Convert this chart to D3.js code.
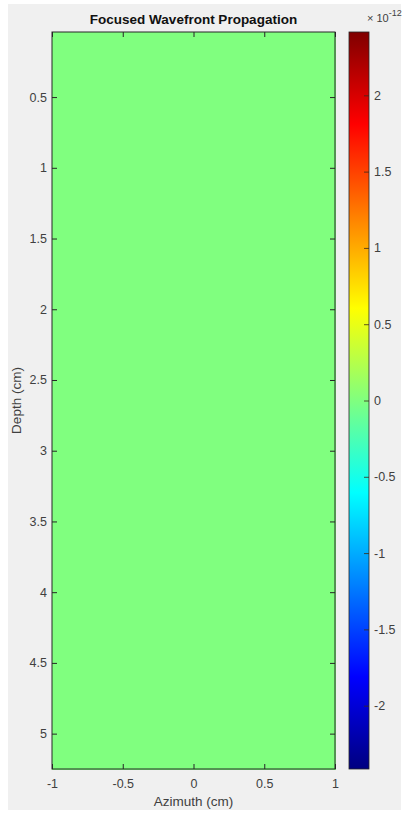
<!DOCTYPE html>
<html>
<head>
<meta charset="utf-8">
<script src="https://cdn.jsdelivr.net/npm/d3@7"></script>
<style>
  html, body { margin: 0; padding: 0; background: #ffffff; }
  svg { display: block; font-family: "Liberation Sans", Arial, sans-serif; }
</style>
</head>
<body>
<svg id="viz" width="409" height="813"></svg>
<script>
// grid of the wavefront field (cm), values in units of 1e-12
var azimuthEdges = [-1, -0.5, 0, 0.5, 1];
var depthEdges = [0.04, 0.5, 1, 1.5, 2, 2.5, 3, 3.5, 4, 4.5, 5, 5.25];
var fieldValues = [
    [0, 0, 0, 0],
    [0, 0, 0, 0],
    [0, 0, 0, 0],
    [0, 0, 0, 0],
    [0, 0, 0, 0],
    [0, 0, 0, 0],
    [0, 0, 0, 0],
    [0, 0, 0, 0],
    [0, 0, 0, 0],
    [0, 0, 0, 0],
    [0, 0, 0, 0]
];
var xTicks = [-1, -0.5, 0, 0.5, 1];
var yTicks = [0.5, 1, 1.5, 2, 2.5, 3, 3.5, 4, 4.5, 5];
var cbTicks = [-2, -1.5, -1, -0.5, 0, 0.5, 1, 1.5, 2];
var cLimit = 2.415;

const margin = {top: 32, left: 52, plotRight: 335, bottom: 769};
const cb = {x: 349, w: 20};

var svg = d3.select("#viz");

svg.append("rect")
    .attr("x", 8).attr("y", 4)
    .attr("width", 393).attr("height", 806)
    .attr("fill", "#f0f0f0");

var xScale = d3.scaleLinear().domain([-1, 1]).range([margin.left, margin.plotRight]);
var yScale = d3.scaleLinear().domain([0.04, 5.25]).range([margin.top, margin.bottom]);
var cScale = d3.scaleLinear().domain([-cLimit, cLimit]).range([margin.bottom, margin.top]);

// jet colormap
var jetStops = [[0, "#000080"], [0.125, "#0000ff"], [0.375, "#00ffff"], [0.625, "#ffff00"], [0.875, "#ff0000"], [1, "#800000"]];
var jet = d3.scaleLinear()
    .domain(jetStops.map(d => -cLimit + d[0] * 2 * cLimit))
    .range(jetStops.map(d => d[1]))
    .interpolate(d3.interpolateRgb)
    .clamp(true);

// cells
var cells = [];
fieldValues.forEach((row, i) => {
    row.forEach((v, j) => {
        cells.push({x0: azimuthEdges[j], x1: azimuthEdges[j + 1], y0: depthEdges[i], y1: depthEdges[i + 1], v: v});
    });
});

var g = svg.append("g");
g.selectAll("rect.cell")
    .data(cells)
    .enter()
    .append("rect")
    .attr("class", "cell")
    .attr("x", d => xScale(d.x0))
    .attr("y", d => yScale(d.y0))
    .attr("width", d => xScale(d.x1) - xScale(d.x0) + 0.5)
    .attr("height", d => yScale(d.y1) - yScale(d.y0) + 0.5)
    .attr("fill", d => jet(d.v))
    .attr("shape-rendering", "crispEdges");

var axisColor = "#262626";
var labelColor = "#404040";
var fmt = d => String(d);

function styleAxis(sel) {
    sel.select(".domain").remove();
    sel.selectAll("line").attr("stroke", axisColor).attr("stroke-width", 1);
    sel.selectAll("text").attr("fill", labelColor).style("font-size", "12.5px");
}

var ix = g.append("g").attr("transform", `translate(0,${margin.bottom})`)
    .call(d3.axisBottom(xScale).tickValues(xTicks).tickSize(-5).tickPadding(10).tickFormat(fmt));
styleAxis(ix);
var ixTop = g.append("g").attr("transform", `translate(0,${margin.top})`)
    .call(d3.axisTop(xScale).tickValues(xTicks).tickSize(-5).tickFormat(""));
styleAxis(ixTop);

var iy = g.append("g").attr("transform", `translate(${margin.left},0)`)
    .call(d3.axisLeft(yScale).tickValues(yTicks).tickSize(-5).tickPadding(5).tickFormat(fmt));
styleAxis(iy);
var iyR = g.append("g").attr("transform", `translate(${margin.plotRight},0)`)
    .call(d3.axisRight(yScale).tickValues(yTicks).tickSize(-5).tickFormat(""));
styleAxis(iyR);

g.append("rect")
    .attr("x", margin.left).attr("y", margin.top)
    .attr("width", margin.plotRight - margin.left)
    .attr("height", margin.bottom - margin.top)
    .attr("fill", "none").attr("stroke", axisColor).attr("stroke-width", 1);

// colorbar
var defs = svg.append("defs");
var grad = defs.append("linearGradient").attr("id", "jetgrad")
    .attr("x1", "0").attr("y1", "1").attr("x2", "0").attr("y2", "0");
d3.range(0, 1.0001, 0.025).forEach(t => {
    grad.append("stop").attr("offset", t).attr("stop-color", jet(-cLimit + t * 2 * cLimit));
});
svg.append("rect")
    .attr("x", cb.x).attr("y", margin.top)
    .attr("width", cb.w).attr("height", margin.bottom - margin.top)
    .attr("fill", "url(#jetgrad)")
    .attr("stroke", axisColor).attr("stroke-width", 0.8);

var cAxis = svg.append("g").attr("transform", `translate(${cb.x + cb.w},0)`)
    .call(d3.axisRight(cScale).tickValues(cbTicks).tickSize(-5).tickPadding(5).tickFormat(fmt));
styleAxis(cAxis);
cAxis.selectAll("line").attr("stroke", "#3a2a1a").attr("stroke-width", 0.8);

var expLabel = svg.append("text")
    .attr("x", 367).attr("y", 22)
    .attr("fill", labelColor)
    .style("font-size", "11px");
expLabel.append("tspan").text("\u00d7 10");
expLabel.append("tspan").attr("dy", -6).style("font-size", "9px").text("-12");

// title and labels
svg.append("text")
    .attr("x", (margin.left + margin.plotRight) / 2).attr("y", 24)
    .attr("text-anchor", "middle")
    .style("font-weight", "bold").style("font-size", "13.5px")
    .attr("fill", "#111")
    .text("Focused Wavefront Propagation");

svg.append("text")
    .attr("x", (margin.left + margin.plotRight) / 2).attr("y", 806)
    .attr("text-anchor", "middle")
    .style("font-size", "13.5px")
    .attr("fill", labelColor)
    .text("Azimuth (cm)");

svg.append("text")
    .attr("transform", `translate(21,${(margin.top + margin.bottom) / 2}) rotate(-90)`)
    .attr("text-anchor", "middle")
    .style("font-size", "13.5px")
    .attr("fill", labelColor)
    .text("Depth (cm)");
</script>
</body>
</html>
